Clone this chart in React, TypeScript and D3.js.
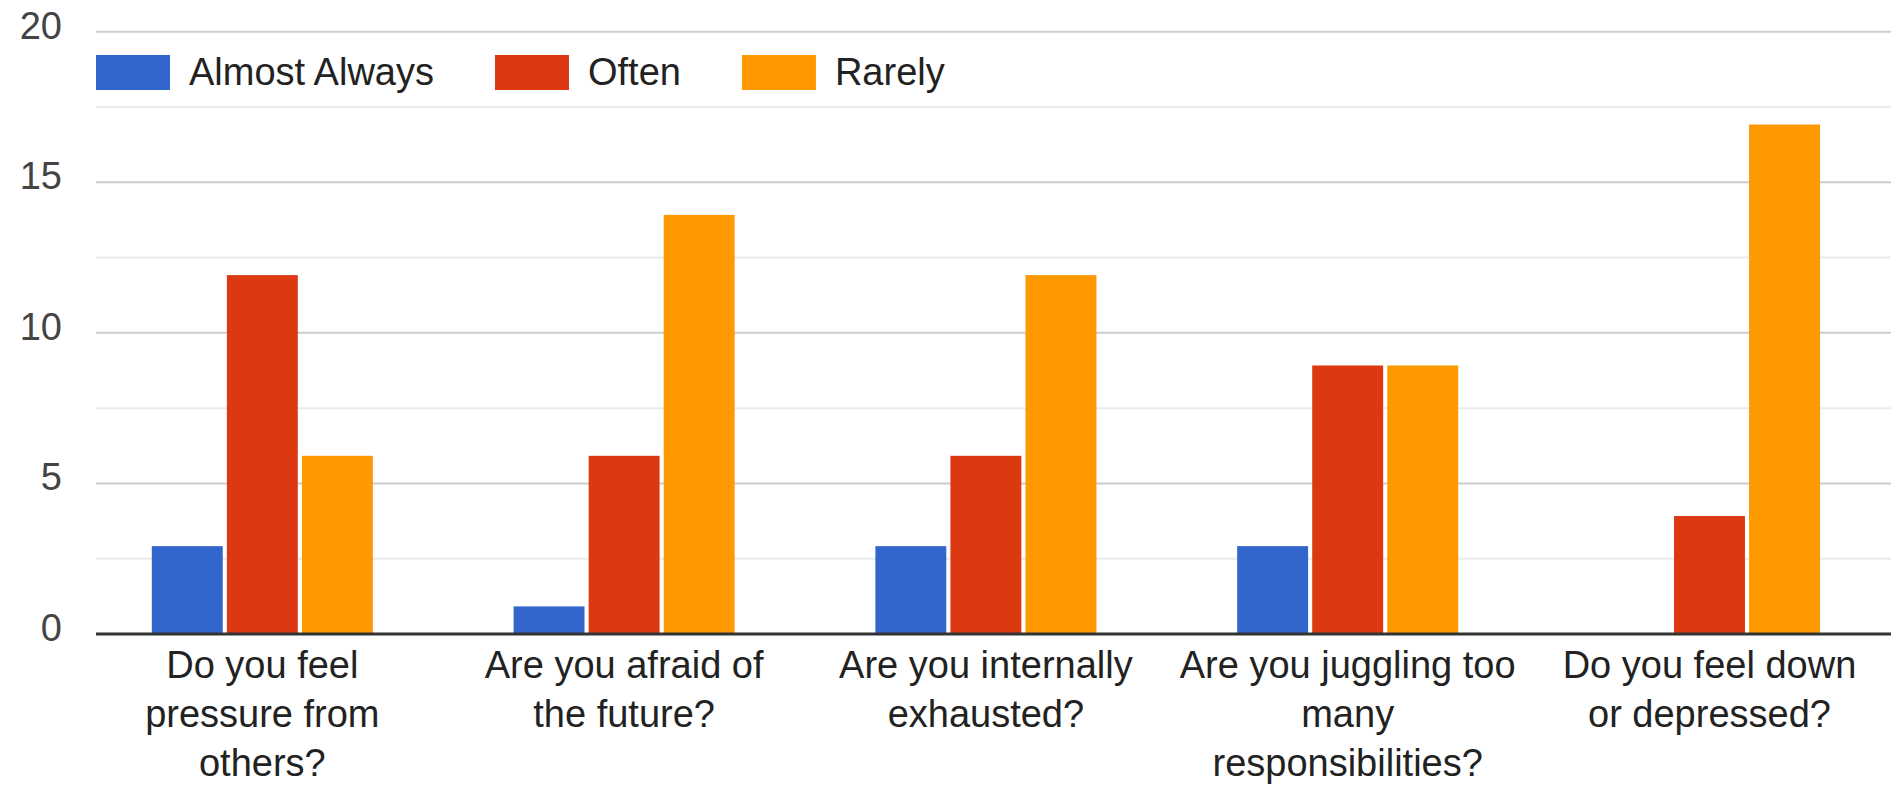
import { useEffect, useRef } from 'react';
import * as d3 from 'd3';

// survey answers, one value per question
const categories = [
  'Do you feel pressure from others?',
  'Are you afraid of the future?',
  'Are you internally exhausted?',
  'Are you juggling too many responsibilities?',
  'Do you feel down or depressed?',
];

// how the axis labels wrap in the original
const categoryLines = [
  ['Do you feel', 'pressure from', 'others?'],
  ['Are you afraid of', 'the future?'],
  ['Are you internally', 'exhausted?'],
  ['Are you juggling too', 'many', 'responsibilities?'],
  ['Do you feel down', 'or depressed?'],
];

const seriesNames = ['Almost Always', 'Often', 'Rarely'];
const almostAlways = [3, 1, 3, 3, 0];
const often = [12, 6, 6, 9, 4];
const rarely = [6, 14, 12, 9, 17];

const yTicks = [0, 5, 10, 15, 20];
const yMinorTicks = [2.5, 7.5, 12.5, 17.5];

const colors = ['#3366cc', '#dc3912', '#ff9900'];

const width = 1891;
const height = 786;
const font = '"Liberation Sans", Arial, sans-serif';

export default function App() {
  const svgRef = useRef<SVGSVGElement>(null);

  useEffect(() => {
    if (!svgRef.current) return;
    const svg = d3.select(svgRef.current);
    svg.selectAll('*').remove();

    const values = [almostAlways, often, rarely];
    const rows = categories.map((c, i) => ({
      category: c,
      values: seriesNames.map((s, j) => ({ series: s, value: values[j][i] })),
    }));

    const gridLeft = 96;
    const x0 = d3
      .scaleBand()
      .domain(categories)
      .range([81.4, 1890.4])
      .paddingInner(0.389)
      .paddingOuter(0.1946);

    const x1 = d3
      .scaleBand()
      .domain(seriesNames)
      .range([0, x0.bandwidth()])
      .paddingInner(0.055);

    const y = d3.scaleLinear().domain([0, 20]).range([634, 31.7]);

    // minor gridlines
    svg
      .append('g')
      .selectAll('line')
      .data(yMinorTicks)
      .enter()
      .append('line')
      .attr('x1', gridLeft)
      .attr('x2', width)
      .attr('y1', (d) => y(d))
      .attr('y2', (d) => y(d))
      .attr('stroke', '#ebebeb')
      .attr('stroke-width', 2);

    // major gridlines
    svg
      .append('g')
      .selectAll('line')
      .data(yTicks.filter((t) => t > 0))
      .enter()
      .append('line')
      .attr('x1', gridLeft)
      .attr('x2', width)
      .attr('y1', (d) => y(d))
      .attr('y2', (d) => y(d))
      .attr('stroke', '#cccccc')
      .attr('stroke-width', 2);

    // y tick labels
    svg
      .append('g')
      .selectAll('text')
      .data(yTicks)
      .enter()
      .append('text')
      .attr('x', 62)
      .attr('y', (d) => y(d) + 7)
      .attr('text-anchor', 'end')
      .attr('font-family', font)
      .attr('font-size', 38)
      .attr('fill', '#444444')
      .text((d) => d);

    // bars
    const groups = svg
      .append('g')
      .selectAll('g')
      .data(rows)
      .enter()
      .append('g')
      .attr('transform', (d) => `translate(${x0(d.category)},0)`);

    groups
      .selectAll('rect')
      .data((d) => d.values.filter((v) => v.value > 0))
      .enter()
      .append('rect')
      .attr('x', (d) => x1(d.series)!)
      .attr('y', (d) => y(d.value) + 2.5)
      .attr('width', x1.bandwidth())
      .attr('height', (d) => y(0) - y(d.value) - 3.5)
      .attr('fill', (d) => colors[seriesNames.indexOf(d.series)]);

    // baseline
    svg
      .append('line')
      .attr('x1', gridLeft)
      .attr('x2', width)
      .attr('y1', y(0))
      .attr('y2', y(0))
      .attr('stroke', '#333333')
      .attr('stroke-width', 3);

    // category labels
    const labels = svg
      .append('g')
      .selectAll('text')
      .data(categories)
      .enter()
      .append('text')
      .attr('x', (d) => x0(d)! + x0.bandwidth() / 2)
      .attr('y', 678)
      .attr('text-anchor', 'middle')
      .attr('font-family', font)
      .attr('font-size', 38)
      .attr('fill', '#222222');

    labels
      .selectAll('tspan')
      .data((d) => categoryLines[categories.indexOf(d)])
      .enter()
      .append('tspan')
      .attr('x', function () {
        return (this.parentNode as SVGTextElement).getAttribute('x');
      })
      .attr('dy', (_, i) => (i === 0 ? 0 : 48.8))
      .text((d) => d);

    // legend
    const legend = svg.append('g');
    let lx = 96;
    seriesNames.forEach((name, i) => {
      legend
        .append('rect')
        .attr('x', lx)
        .attr('y', 55)
        .attr('width', 74)
        .attr('height', 35)
        .attr('fill', colors[i]);
      const t = legend
        .append('text')
        .attr('x', lx + 93)
        .attr('y', 85)
        .attr('font-family', font)
        .attr('font-size', 38)
        .attr('fill', '#222222')
        .text(name);
      lx = lx + 93 + (t.node() as SVGTextElement).getComputedTextLength() + 61;
    });
  }, []);

  return (
    <svg
      ref={svgRef}
      width={width}
      height={height}
      style={{ position: 'absolute', left: 0, top: 0, background: '#fff' }}
    ></svg>
  );
}
